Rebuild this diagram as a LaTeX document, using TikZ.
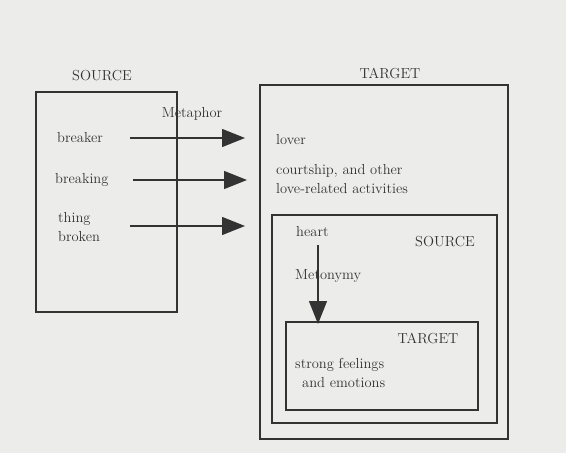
\documentclass[tikz,border=0pt]{standalone}
\usetikzlibrary{arrows.meta}
\definecolor{bg}{HTML}{ECECEA}
\definecolor{ink}{HTML}{333333}
\begin{document}
\begin{tikzpicture}[x=1pt,y=-1pt,
  box/.style={draw=ink,line width=1.4pt,inner sep=0pt},
  lbl/.style={anchor=west,inner sep=0pt,text=ink,font=\fontsize{14.5}{19}\selectfont,align=left},
  ttl/.style={inner sep=0pt,text=ink,font=\fontsize{14.5}{19}\selectfont},
  maparrow/.style={draw=ink,line width=1.3pt,-{Triangle[length=23pt,width=18pt]}}]
\fill[bg] (0,0) rectangle (566,453);
\useasboundingbox (0,0) rectangle (566,453);
% boxes
\node[box,minimum width=141pt,minimum height=220pt] (srcbox) at (106.5,202) {};
\node[box,minimum width=248pt,minimum height=354pt] (tgtbox) at (384,262) {};
\node[box,minimum width=225pt,minimum height=208pt] (midbox) at (384.5,319) {};
\node[box,minimum width=192pt,minimum height=88pt] (inbox) at (382,366) {};
% titles
\node[ttl] (srct) at (102,76) {SOURCE};
\node[ttl] (tgtt) at (390,73) {TARGET};
\node[ttl] (midt) at (445,242) {SOURCE};
\node[ttl] (int) at (428,338) {TARGET};
% labels
\node[lbl] (breaker) at (57,138) {breaker};
\node[lbl] (breaking) at (55,180) {breaking};
\node[lbl,text width=60pt] (thing) at (58,227) {thing\\broken};
\node[ttl] (metaphor) at (192,114) {Metaphor};
\node[lbl] (lover) at (276,140) {lover};
\node[lbl] (court) at (276,179) {courtship, and other\\love-related activities};
\node[lbl] (heart) at (296,232) {heart};
\node[lbl] (meton) at (295,276) {Metonymy};
\node[lbl] (feel) at (295,373) {strong feelings\\\hspace*{7pt}and emotions};
% connectors
\coordinate (a1s) at (130,138); \coordinate (a1e) at (245,138);
\coordinate (a2s) at (133,180); \coordinate (a2e) at (247,180);
\coordinate (a3s) at (130,226); \coordinate (a3e) at (245,226);
\draw[maparrow] (a1s) -- (a1e);
\draw[maparrow] (a2s) -- (a2e);
\draw[maparrow] (a3s) -- (a3e);
\coordinate (ms) at (318,245); \coordinate (me) at (318,324);
\draw[maparrow] (ms) -- (me);
\end{tikzpicture}
\end{document}
